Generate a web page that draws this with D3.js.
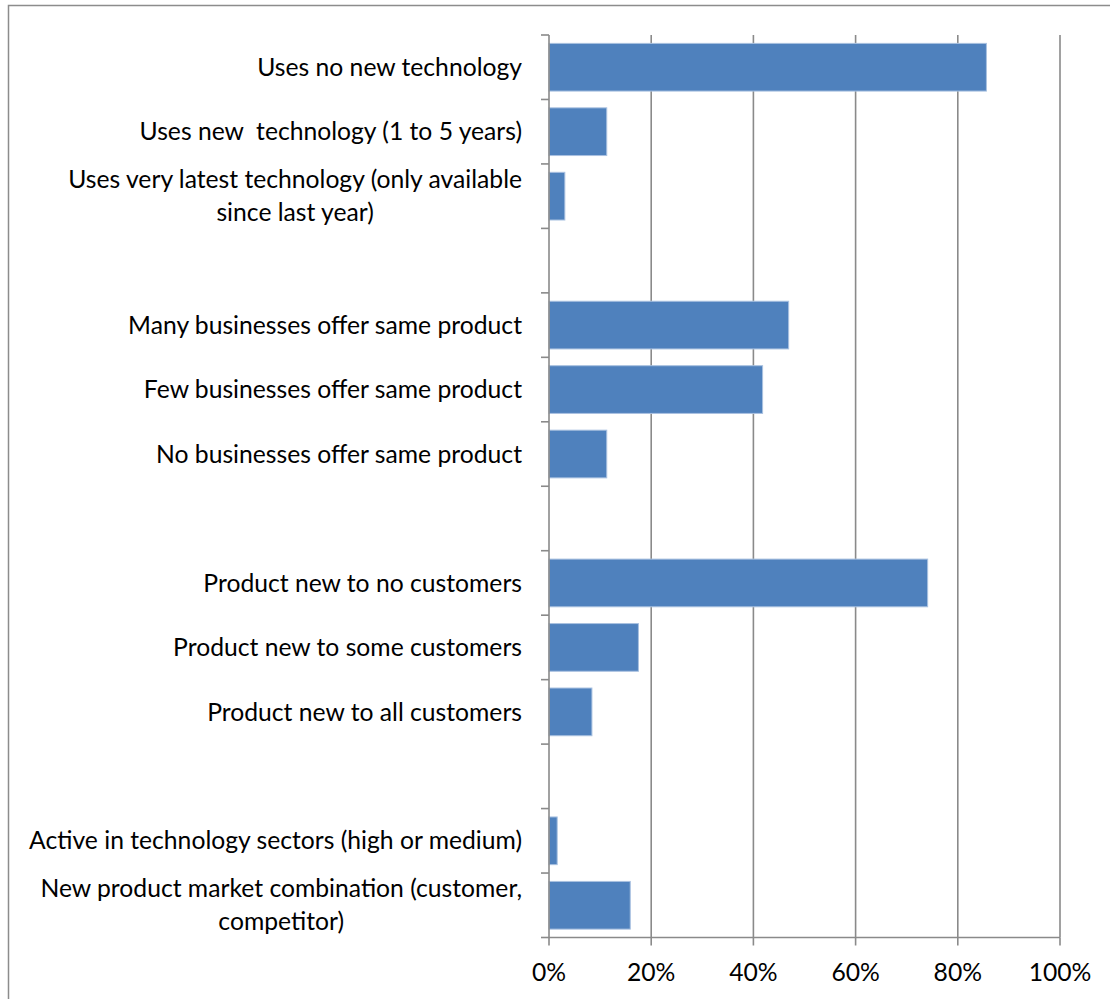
<!DOCTYPE html>
<html>
<head>
<meta charset="utf-8">
<script src="https://cdn.jsdelivr.net/npm/d3@7"></script>
<style>
  body { margin: 0; background: #fff; }
  text { font-family: Lato, "Open Sans", sans-serif; fill: #000; white-space: pre; }
</style>
</head>
<body>
<div id="chart"></div>
<script>
// categories top to bottom, blank rows separate the groups, "\n" marks a wrapped label
var categories = [
  "Uses no new technology",
  "Uses new  technology (1 to 5 years)",
  "Uses very latest technology (only available\nsince last year)",
  "",
  "Many businesses offer same product",
  "Few businesses offer same product",
  "No businesses offer same product",
  "",
  "Product new to no customers",
  "Product new to some customers",
  "Product new to all customers",
  "",
  "Active in technology sectors (high or medium)",
  "New product market combination (customer,\ncompetitor)"
];
var shares = [0.856, 0.113, 0.031, null, 0.469, 0.418, 0.113, null, 0.741, 0.175, 0.084, null, 0.016, 0.159];
var xTicks = [0, 0.2, 0.4, 0.6, 0.8, 1];

const W = 1110, H = 999;
const pLeft = 549, pRight = 1060, pTop = 35, pBottom = 937.5;
const fontSize = 24.7, lineH = 33;

var svg = d3.select("#chart").append("svg")
  .attr("width", W).attr("height", H);

// chart frame
svg.append("rect")
  .attr("x", 8.5).attr("y", 5.5)
  .attr("width", W + 20).attr("height", H + 20)
  .attr("fill", "#fff").attr("stroke", "#8c8c8c").attr("stroke-width", 1.5);

var idx = d3.range(categories.length);
var y = d3.scaleBand().domain(idx).range([pTop, pBottom]).paddingInner(0.26).paddingOuter(0.13);
var x = d3.scaleLinear().domain([0, 1]).range([pLeft, pRight]);

// vertical gridlines
svg.append("g").selectAll("line")
  .data(xTicks.slice(1))
  .enter().append("line")
    .attr("x1", d => x(d)).attr("x2", d => x(d))
    .attr("y1", pTop).attr("y2", pBottom)
    .attr("stroke", "#8a8a8a").attr("stroke-width", 1.6);

// bars
svg.append("g").selectAll("rect")
  .data(idx.filter(i => shares[i] != null))
  .enter().append("rect")
    .attr("x", x(0))
    .attr("y", i => y(i))
    .attr("width", i => x(shares[i]) - x(0))
    .attr("height", y.bandwidth())
    .attr("fill", "#4f81bd")
    .attr("stroke", "#a9c1e0").attr("stroke-width", 1);

// category axis: line + ticks at band boundaries
var step = y.step();
var bounds = d3.range(categories.length + 1).map(k => pTop + k * step);
var yAx = svg.append("g");
yAx.append("line")
  .attr("x1", pLeft).attr("x2", pLeft).attr("y1", pTop).attr("y2", pBottom)
  .attr("stroke", "#8a8a8a").attr("stroke-width", 1.6);
yAx.selectAll("line.tick")
  .data(bounds)
  .enter().append("line")
    .attr("class", "tick")
    .attr("x1", pLeft - 8).attr("x2", pLeft)
    .attr("y1", d => d).attr("y2", d => d)
    .attr("stroke", "#8a8a8a").attr("stroke-width", 1.6);

// value axis: line + ticks
var xAx = svg.append("g");
xAx.append("line")
  .attr("x1", pLeft).attr("x2", pRight).attr("y1", pBottom).attr("y2", pBottom)
  .attr("stroke", "#8a8a8a").attr("stroke-width", 1.6);
xAx.selectAll("line.tick")
  .data(xTicks)
  .enter().append("line")
    .attr("class", "tick")
    .attr("x1", d => x(d)).attr("x2", d => x(d))
    .attr("y1", pBottom).attr("y2", pBottom + 8)
    .attr("stroke", "#8a8a8a").attr("stroke-width", 1.6);
xAx.selectAll("text")
  .data(xTicks)
  .enter().append("text")
    .attr("x", d => x(d))
    .attr("y", 981)
    .attr("text-anchor", "middle")
    .style("font-size", fontSize + "px")
    .text(d => d3.format(".0%")(d));

// category labels: block right aligned, wrapped lines centred on each other
var labG = svg.append("g");
idx.forEach(function(i) {
  if (!categories[i]) return;
  var lines = categories[i].split("\n");
  var cy = y(i) + y.bandwidth() / 2;
  var g = labG.append("g");
  var t = g.selectAll("text")
    .data(lines)
    .enter().append("text")
      .attr("y", (d, k) => cy + (k - (lines.length - 1) / 2) * lineH)
      .attr("dy", "0.35em")
      .attr("text-anchor", "middle")
      .style("font-size", fontSize + "px")
      .text(d => d);
  var wMax = d3.max(t.nodes(), n => n.getComputedTextLength());
  t.attr("x", pLeft - 27 - wMax / 2);
});
</script>
</body>
</html>
